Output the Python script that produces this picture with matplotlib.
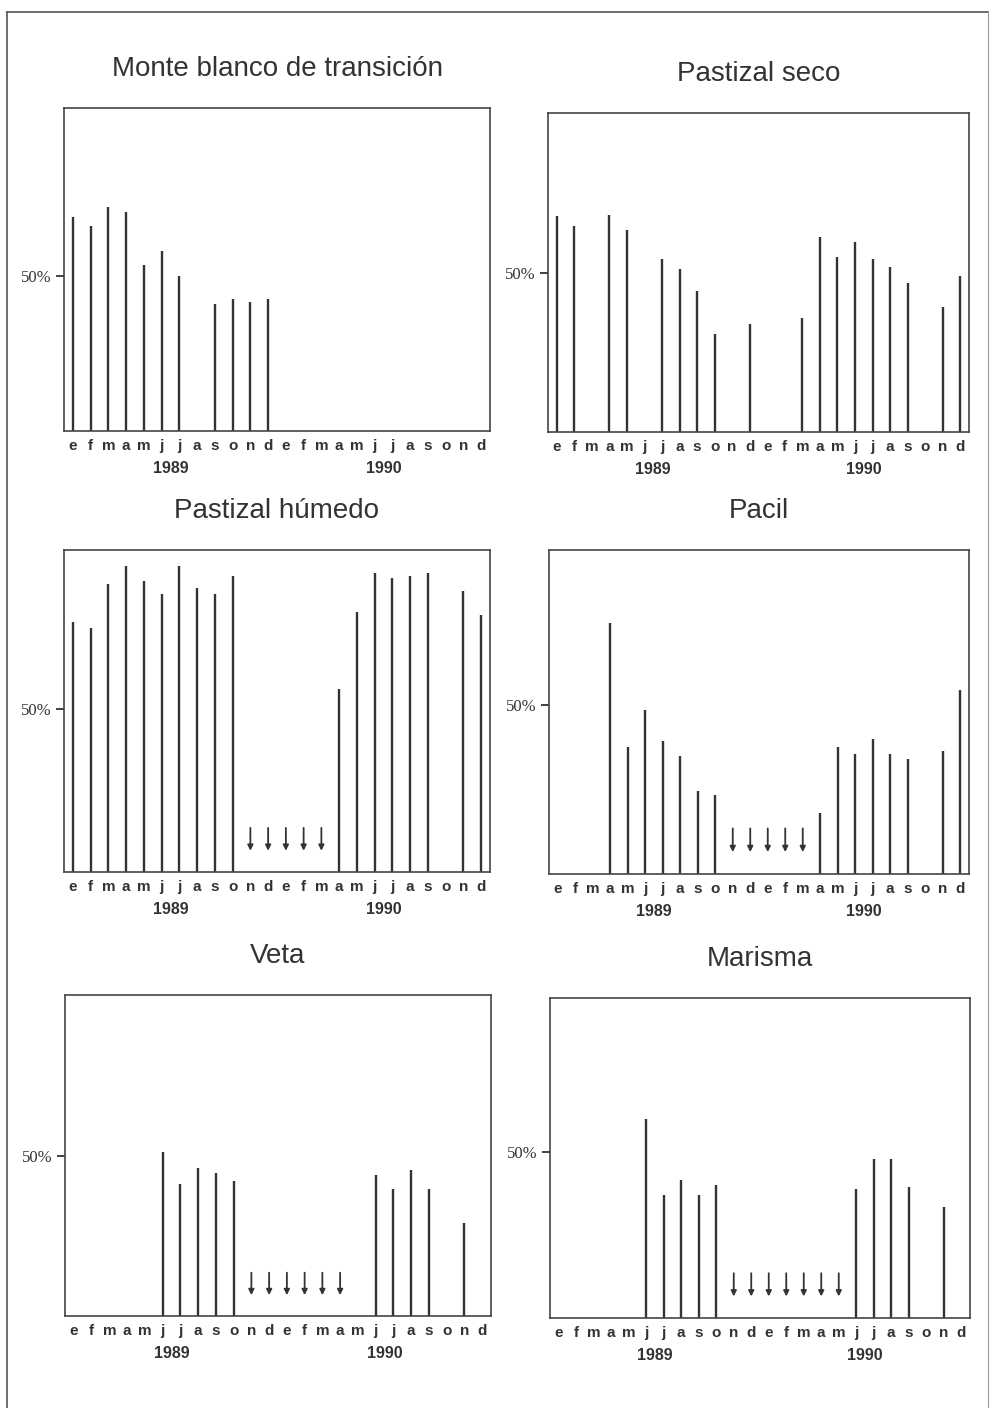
import numpy as np
import matplotlib
matplotlib.use("Agg")
import matplotlib.pyplot as plt
from matplotlib.lines import Line2D

# --------------------------------------------------
# DATA (percent per month, Jan 1989 - Dec 1990; None = no bar)
# --------------------------------------------------
months = ["e", "f", "m", "a", "m", "j", "j", "a", "s", "o", "n", "d",
          "e", "f", "m", "a", "m", "j", "j", "a", "s", "o", "n", "d"]
years = ["1989", "1990"]
year_pos = [5.5, 17.5]

titles = ["Monte blanco de transición", "Pastizal seco", "Pastizal húmedo",
          "Pacil", "Veta", "Marisma"]

monte_blanco = [69, 66, 72, 70.5, 53.5, 58, 50, None, 41, 42.5, 41.5, 42.5,
                None, None, None, None, None, None, None, None, None, None, None, None]
pastizal_seco = [68, 65, None, 68.5, 63.5, None, 54.5, 51.5, 44.5, 31, None, 34,
                 None, None, 36, 61.5, 55, 60, 54.5, 52, 47, None, 39.5, 49]
pastizal_humedo = [76.5, 74.5, 88, 93.5, 89, 85, 93.5, 87, 85, 90.5, None, None,
                   None, None, None, 56, 79.5, 91.5, 90, 90.5, 91.5, None, 86, 78.5]
pacil = [None, None, None, 74.5, 37.5, 48.5, 39.5, 35, 24.5, 23.5, None, None,
         None, None, None, 18, 37.5, 35.5, 40, 35.5, 34, None, 36.5, 54.5]
veta = [None, None, None, None, None, 51, 41, 46, 44.5, 42, None, None,
        None, None, None, None, None, 44, 39.5, 45.5, 39.5, None, 29, None]
marisma = [None, None, None, None, None, 60, 37, 41.5, 37, 40, None, None,
           None, None, None, None, None, 39, 48, 48, 39.5, None, 33.5, None]

series = [monte_blanco, pastizal_seco, pastizal_humedo, pacil, veta, marisma]

# months marked with a downward arrow (index into months)
arrows = [[], [],
          [10, 11, 12, 13, 14],
          [10, 11, 12, 13, 14],
          [10, 11, 12, 13, 14, 15],
          [10, 11, 12, 13, 14, 15, 16]]

# --------------------------------------------------
# LAYOUT
# --------------------------------------------------
W, H = 995, 1408
rects_px = [(64, 108, 490, 431), (548, 113, 969, 432),
            (64, 550, 490, 872), (549, 550, 969, 874),
            (65, 995, 491, 1316), (550, 998, 970, 1318)]
ytops = [104, 100.5, 98.5, 96, 100, 96.5]

ink = "#333333"
fig = plt.figure(figsize=(W / 100, H / 100), dpi=100)
fig.patch.set_facecolor("white")

# page frame
fig.add_artist(Line2D([7 / W, 7 / W], [0, 1 - 12 / H], color="#555555", lw=1.2))
fig.add_artist(Line2D([7 / W, 988 / W], [1 - 12 / H, 1 - 12 / H], color="#555555", lw=1.2))
fig.add_artist(Line2D([988 / W, 988 / W], [0, 1 - 12 / H], color="#999999", lw=0.8))

for i, (l, t, r, b) in enumerate(rects_px):
    ax = fig.add_axes([l / W, 1 - b / H, (r - l) / W, (b - t) / H])
    vals = np.array([np.nan if v is None else v for v in series[i]], dtype=float)
    x = np.arange(len(months))
    ok = ~np.isnan(vals)
    ax.vlines(x[ok], 0, vals[ok], color=ink, lw=1.7)

    for k in arrows[i]:
        ax.annotate("", xy=(k, 6.5), xytext=(k, 13.5),
                    arrowprops=dict(arrowstyle="-|>", color=ink, lw=1.3,
                                    mutation_scale=8, shrinkA=0, shrinkB=0))

    ax.set_xlim(-0.5, 23.5)
    ax.set_ylim(0, ytops[i])
    ax.set_xticks(x)
    ax.set_xticklabels(months, fontfamily="Liberation Sans", fontweight="bold",
                       fontsize=11, color=ink)
    ax.tick_params(axis="x", length=0, pad=6)
    ax.set_yticks([50])
    ax.set_yticklabels(["50%"], fontfamily="Liberation Serif", fontsize=12, color=ink)
    ax.tick_params(axis="y", length=6, width=1.3, pad=3, color=ink)
    for sp in ax.spines.values():
        sp.set_color("#444444")
        sp.set_linewidth(1.2)

    for yl, xp in zip(years, year_pos):
        ax.annotate(yl, xy=(xp, 0), xycoords=("data", "axes fraction"),
                    xytext=(0, -27), textcoords="offset points",
                    ha="center", va="center", fontfamily="Liberation Sans",
                    fontweight="bold", fontsize=11.5, color=ink)

    ax.annotate(titles[i], xy=(0.5, 1), xycoords="axes fraction",
                xytext=(0, 28), textcoords="offset points",
                ha="center", va="center", fontfamily="Liberation Sans",
                fontsize=20, color=ink)

fig.savefig("out.png", dpi=100, facecolor="white")
